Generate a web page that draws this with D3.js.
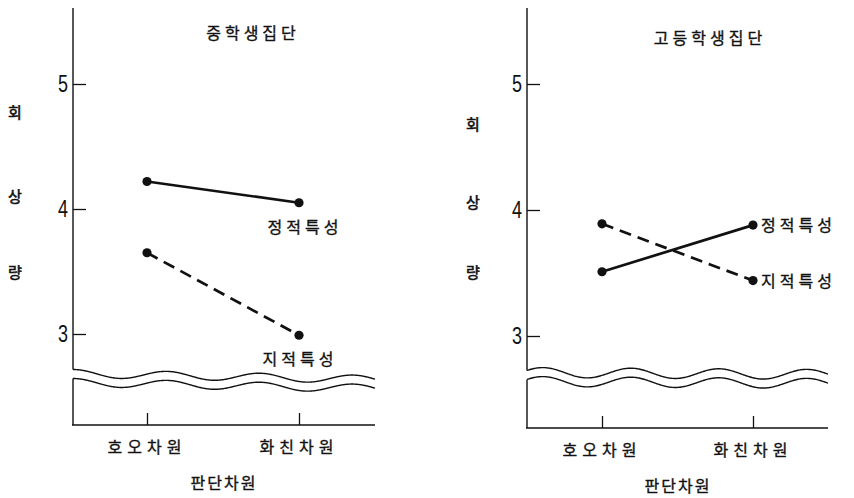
<!DOCTYPE html>
<html><head><meta charset="utf-8">
<script src="https://cdn.jsdelivr.net/npm/d3@7"></script>
<style>
body{margin:0;background:#fff;}
svg{display:block;}
.kr{font-family:"Noto Sans CJK KR","Noto Sans",sans-serif;fill:#111;stroke:#111;stroke-width:0.35px;}
.num{font-family:"Liberation Sans","Arimo",sans-serif;font-size:23px;fill:#111;}
</style></head>
<body>
<svg id="chart" width="854" height="498"></svg>
<script>
const categories = ["호오차원", "화친차원"];
const panelTitles = ["중학생집단", "고등학생집단"];
const seriesNames = ["정적특성", "지적특성"];
const yTicks = [3, 4, 5];
const yLabelChars = ["회", "상", "량"];
const xAxisTitle = "판단차원";
// values per panel: [정적특성, 지적특성]
const middleStatic = [4.22, 4.05];
const middleIntellect = [3.65, 2.99];
const highStatic = [3.51, 3.88];
const highIntellect = [3.89, 3.44];

const svg = d3.select("#chart");

const panels = [
  {title: panelTitles[0], series: [middleStatic, middleIntellect],
   axisX: 73, xr: [147, 299], yr: [334, 84], top: 8, bottom: 425, right: 375,
   titleX: 253, titleY: 39, yLabX: 15, yLabY: [118, 202, 278],
   tickLabY: 453, xTitleX: 224, xTitleY: 489,
   wave: {y: 378, amp: 4, len: 93, peak: 167, drift: 6},
   labelStyle: "below"},
  {title: panelTitles[1], series: [highStatic, highIntellect],
   axisX: 527, xr: [602, 753], yr: [336, 84], top: 8, bottom: 428, right: 828,
   titleX: 710, titleY: 44, yLabX: 473, yLabY: [130, 208, 278],
   tickLabY: 456, xTitleX: 678, xTitleY: 492,
   wave: {y: 377, amp: 5, len: 88, peak: 543, drift: 2},
   labelStyle: "right"}
];

panels.forEach((p) => {
  const g = svg.append("g");
  const x = d3.scalePoint().domain(categories).range(p.xr);
  const y = d3.scaleLinear().domain([3, 5]).range(p.yr);

  const w = p.wave;
  const span = p.right - p.axisX;
  const waveY = (d, off) => w.y + off + w.drift * (d - p.axisX) / span - w.amp * Math.cos(2 * Math.PI * (d - w.peak) / w.len);
  const gap = 4.5;

  // vertical axis line, broken between wave lines
  g.append("line").attr("x1", p.axisX).attr("x2", p.axisX)
    .attr("y1", p.top).attr("y2", waveY(p.axisX, -gap))
    .attr("stroke", "#111").attr("stroke-width", 1.4);
  g.append("line").attr("x1", p.axisX).attr("x2", p.axisX)
    .attr("y1", waveY(p.axisX, gap)).attr("y2", p.bottom)
    .attr("stroke", "#111").attr("stroke-width", 1.4);
  // horizontal axis line
  g.append("line").attr("x1", p.axisX - 1).attr("x2", p.right)
    .attr("y1", p.bottom).attr("y2", p.bottom)
    .attr("stroke", "#111").attr("stroke-width", 1.7);

  // y ticks via d3 axis
  const yAxis = d3.axisLeft(y).tickValues(yTicks).tickSize(-13).tickPadding(5).tickFormat(d3.format("d"));
  const ya = g.append("g").attr("transform", `translate(${p.axisX},0)`).call(yAxis);
  ya.select(".domain").remove();
  ya.selectAll(".tick line").attr("stroke", "#111").attr("stroke-width", 1.3);
  ya.selectAll(".tick text").attr("class", "num").attr("font-size", null).attr("font-family", null)
    .attr("fill", "#111").attr("textLength", 10).attr("lengthAdjust", "spacingAndGlyphs");

  // x ticks via d3 axis
  const xAxis = d3.axisBottom(x).tickSize(-12).tickPadding(0).tickFormat("");
  const xa = g.append("g").attr("transform", `translate(0,${p.bottom})`).call(xAxis);
  xa.select(".domain").remove();
  xa.selectAll(".tick line").attr("stroke", "#111").attr("stroke-width", 1.3);
  // x tick labels
  g.selectAll(".xl").data(categories).join("text")
    .attr("class", "kr").attr("x", d => x(d)).attr("y", p.tickLabY)
    .attr("text-anchor", "middle").attr("font-size", 16).attr("letter-spacing", 5)
    .text(d => d);
  g.append("text").attr("class", "kr").attr("x", p.xTitleX).attr("y", p.xTitleY)
    .attr("text-anchor", "middle").attr("font-size", 16).attr("letter-spacing", 2)
    .text(xAxisTitle);

  // title
  g.append("text").attr("class", "kr").attr("x", p.titleX).attr("y", p.titleY)
    .attr("text-anchor", "middle").attr("font-size", 16).attr("letter-spacing", 4)
    .text(p.title);

  // y label chars
  yLabelChars.forEach((c, i) => {
    g.append("text").attr("class", "kr").attr("x", p.yLabX).attr("y", p.yLabY[i])
      .attr("text-anchor", "middle").attr("font-size", 15).style("stroke-width", "0.6px").text(c);
  });

  // axis break wavy lines
  const xs = d3.range(p.axisX, p.right + 1, 1);
  const waveLine = off => d3.line().x(d => d).y(d => waveY(d, off)).curve(d3.curveBasis)(xs);
  g.append("path").attr("d", waveLine(-gap)).attr("fill", "none").attr("stroke", "#111").attr("stroke-width", 1.4);
  g.append("path").attr("d", waveLine(gap)).attr("fill", "none").attr("stroke", "#111").attr("stroke-width", 1.4);

  // series lines
  p.series.forEach((vals, si) => {
    const pts = categories.map((c, i) => [x(c), y(vals[i])]);
    g.append("path").attr("d", d3.line()(pts)).attr("fill", "none")
      .attr("stroke", "#111").attr("stroke-width", 2.7)
      .attr("stroke-dasharray", si === 1 ? "12,7" : null);
    g.selectAll(null).data(pts).join("circle")
      .attr("cx", d => d[0]).attr("cy", d => d[1]).attr("r", 4.6).attr("fill", "#111");
    const last = pts[pts.length - 1];
    if (p.labelStyle === "below") {
      g.append("text").attr("class", "kr").attr("x", last[0] + (si === 0 ? 6 : 1)).attr("y", last[1] + 30)
        .attr("text-anchor", "middle").attr("font-size", 16).attr("letter-spacing", 4)
        .text(seriesNames[si]);
    } else {
      g.append("text").attr("class", "kr").attr("x", last[0] + 8).attr("y", last[1] + 6)
        .attr("text-anchor", "start").attr("font-size", 16).attr("letter-spacing", 4)
        .text(seriesNames[si]);
    }
  });
});
</script>
</body></html>
